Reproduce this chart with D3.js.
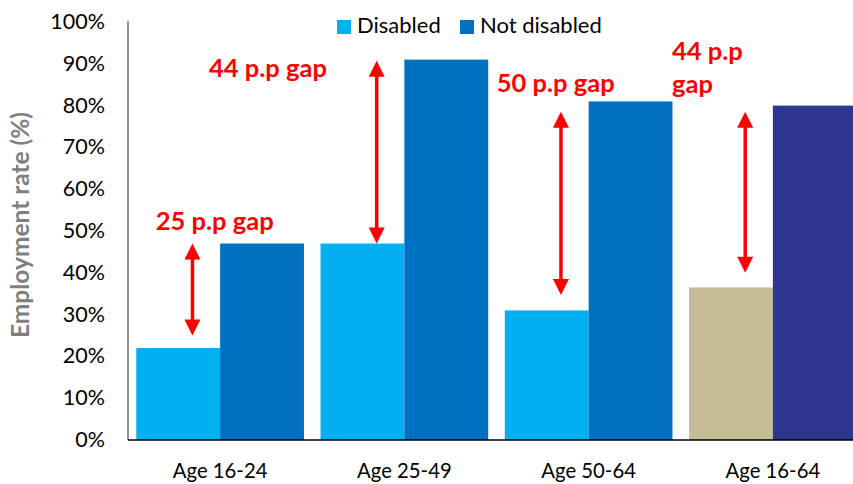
<!DOCTYPE html>
<html>
<head>
<meta charset="utf-8">
<script src="https://cdn.jsdelivr.net/npm/d3@7"></script>
<style>
  html, body { margin: 0; padding: 0; background: #fff; }
  svg { display: block; font-family: Lato, "Open Sans", sans-serif; }
</style>
</head>
<body>
<svg id="chart" width="853" height="484"></svg>
<script>
// Employment rate by age group, disabled vs not disabled
const categories = ["Age 16-24", "Age 25-49", "Age 50-64", "Age 16-64"];
const disabledRate = [22, 47, 31, 36.5];
const notDisabledRate = [47, 91, 81, 80];
const gapText = [["25 p.p gap"], ["44 p.p gap"], ["50 p.p gap"], ["44 p.p", "gap"]];
// extent of each gap arrow, in employment-rate units
const arrowLow = [25, 47, 34.7, 40];
const arrowHigh = [47, 90.7, 78.5, 78.5];
const yTicks = [0, 10, 20, 30, 40, 50, 60, 70, 80, 90, 100];
const seriesNames = ["Disabled", "Not disabled"];

// the all-ages group uses its own pair of colours
const disabledColours = ["#00B0F0", "#00B0F0", "#00B0F0", "#C4BD97"];
const notDisabledColours = ["#0070C0", "#0070C0", "#0070C0", "#2E3690"];

const svg = d3.select("#chart");
const plotLeft = 128, plotBottom = 440, plotTop = 22;

const x = d3.scaleBand().domain(categories).range([plotLeft, 865])
  .paddingInner(0.09).paddingOuter(0.045);
const y = d3.scaleLinear().domain([0, 100]).range([plotBottom, plotTop]);
const half = x.bandwidth() / 2;

// bars
const g = svg.append("g");
categories.forEach((c, i) => {
  g.append("rect").attr("x", x(c)).attr("y", y(disabledRate[i]))
    .attr("width", half).attr("height", y(0) - y(disabledRate[i]))
    .attr("fill", disabledColours[i]);
  g.append("rect").attr("x", x(c) + half).attr("y", y(notDisabledRate[i]))
    .attr("width", half).attr("height", y(0) - y(notDisabledRate[i]))
    .attr("fill", notDisabledColours[i]);
});

// y axis
const yAxis = d3.axisLeft(y).tickValues(yTicks).tickFormat(d => d + "%").tickSize(0).tickPadding(23);
const ya = svg.append("g").attr("transform", `translate(${plotLeft},0)`).call(yAxis);
ya.select(".domain").attr("stroke", "#595959").attr("stroke-width", 1.3)
  .attr("d", `M0,${y(100) - 1}V${plotBottom}`);
ya.selectAll("text").attr("font-size", 21.5).attr("dy", "0.3em")
  .attr("fill", "#000").attr("font-family", "Lato, sans-serif");

// x axis
const xAxis = d3.axisBottom(x).tickSize(0).tickPadding(24);
const xa = svg.append("g").attr("transform", `translate(0,${plotBottom})`).call(xAxis);
xa.select(".domain").attr("stroke", "#000").attr("stroke-width", 1.3)
  .attr("d", `M${plotLeft},0H853`);
xa.selectAll("text").attr("font-size", 20.3).attr("fill", "#000").attr("font-family", "Lato, sans-serif");

// y title
svg.append("text")
  .attr("transform", `translate(29,${225}) rotate(-90)`)
  .attr("text-anchor", "middle")
  .attr("font-size", 24.5).attr("font-weight", "bold").attr("fill", "#7F7F7F")
  .text("Employment rate (%)");

// gap arrows
const red = "#FF0000";
categories.forEach((c, i) => {
  const ax = x(c) + x.bandwidth() * 0.335;
  const y1 = y(arrowHigh[i]), y2 = y(arrowLow[i]);
  const hw = 8, hl = 16;
  svg.append("line").attr("x1", ax).attr("x2", ax)
    .attr("y1", y1 + hl - 1).attr("y2", y2 - hl + 1)
    .attr("stroke", red).attr("stroke-width", 3.5);
  svg.append("path").attr("fill", red)
    .attr("d", `M${ax},${y1}L${ax + hw},${y1 + hl}L${ax - hw},${y1 + hl}Z`);
  svg.append("path").attr("fill", red)
    .attr("d", `M${ax},${y2}L${ax + hw},${y2 - hl}L${ax - hw},${y2 - hl}Z`);
});

// gap labels: anchor relative to each group's band, baseline in rate units
const labelPlacement = [
  { dx: 19.5, v: 50.2 },
  { dx: -111.5, v: 86.8 },
  { dx: -8, v: 83.2 },
  { dx: -17, v: 90.9 }
];
categories.forEach((c, i) => {
  const p = labelPlacement[i];
  const t = svg.append("text")
    .attr("x", x(c) + p.dx).attr("y", y(p.v))
    .attr("font-size", 25.5).attr("font-weight", "bold").attr("fill", red);
  gapText[i].forEach((line, k) => {
    t.append("tspan").attr("x", x(c) + p.dx).attr("dy", k === 0 ? 0 : 33).text(line);
  });
});

// legend
const legendX = [337, 460];
const legendColours = ["#00B0F0", "#0070C0"];
seriesNames.forEach((s, i) => {
  svg.append("rect").attr("x", legendX[i]).attr("y", 20).attr("width", 14).attr("height", 14)
    .attr("fill", legendColours[i]);
  svg.append("text").attr("x", legendX[i] + 20).attr("y", 33)
    .attr("font-size", 22).attr("fill", "#000").text(s);
});
</script>
</body>
</html>
